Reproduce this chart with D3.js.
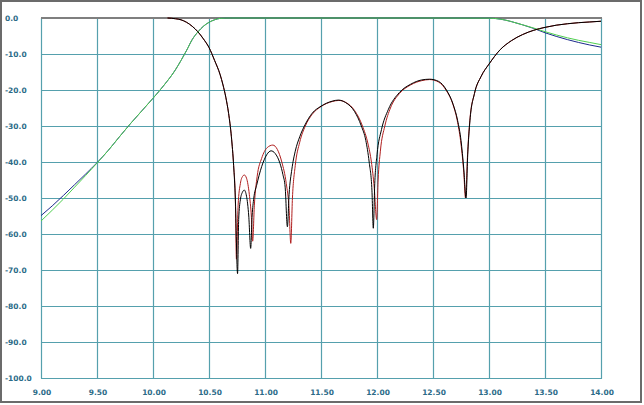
<!DOCTYPE html>
<html><head><meta charset="utf-8">
<script src="https://cdn.jsdelivr.net/npm/d3@7"></script>
<style>html,body{margin:0;padding:0;background:#fff;}svg{display:block;}</style>
</head><body>
<script>
const xTicks = [9.0, 9.5, 10.0, 10.5, 11.0, 11.5, 12.0, 12.5, 13.0, 13.5, 14.0];
const yTicks = [0, -10, -20, -30, -40, -50, -60, -70, -80, -90, -100];

// S21 (green)
const s21GreenF = [9.0,9.1,9.2,9.3,9.4,9.5,9.6,9.7,9.8,9.9,10.0,10.1,10.2,10.25,10.3,10.35,10.4,10.45,10.5,10.55,10.6,10.65,10.7,11.5,12.5,13.0,13.1,13.2,13.3,13.4,13.5,13.6,13.7,13.8,13.9,14.0];
const s21GreenV = [-56.4,-53.4,-50.3,-47.0,-43.7,-40.3,-36.8,-33.0,-29.3,-25.8,-22.3,-18.6,-14.4,-11.8,-9.0,-6.0,-3.9,-2.3,-1.2,-0.5,-0.1,-0.02,0,0,0,-0.05,-0.3,-1.0,-1.9,-2.8,-3.8,-4.7,-5.5,-6.2,-6.8,-7.4];
// S21 (blue)
const s21BlueF = [9.0,9.1,9.2,9.3,9.4,9.5,9.6,9.7,9.8,9.9,10.0,10.1,10.2,10.25,10.3,10.35,10.4,10.45,10.5,10.55,10.6,10.65,10.7,11.5,12.5,13.0,13.1,13.2,13.3,13.4,13.5,13.6,13.7,13.8,13.9,14.0];
const s21BlueV = [-54.9,-52.2,-49.3,-46.3,-43.3,-40.2,-36.8,-33.0,-29.3,-25.8,-22.3,-18.6,-14.4,-11.8,-9.0,-6.0,-3.9,-2.3,-1.2,-0.5,-0.1,-0.02,0,0,0,-0.05,-0.3,-1.0,-1.9,-2.9,-4.1,-5.1,-6.0,-6.8,-7.5,-8.1];

// S11 (black)
const s11BlackF = [10.13,10.2,10.25,10.3,10.35,10.4,10.45,10.5,10.55,10.6,10.625,10.65,10.675,10.7,10.72,10.735,10.755,10.765,10.78,10.8,10.815,10.835,10.855,10.872,10.885,10.9,10.925,10.97,11.015,11.054,11.09,11.134,11.16,11.18,11.2,11.215,11.24,11.27,11.31,11.36,11.42,11.5,11.6,11.655,11.72,11.8,11.86,11.9,11.93,11.955,11.967,11.98,12.0,12.04,12.1,12.2,12.3,12.4,12.47,12.55,12.62,12.68,12.72,12.75,12.775,12.795,12.81,12.83,12.87,12.93,13.0,13.1,13.2,13.3,13.4,13.5,13.6,13.7,13.8,13.9,14.0];
const s11BlackV = [0,-0.2,-0.5,-1.2,-2.3,-3.8,-5.8,-8.2,-11.8,-15.8,-18.6,-22,-26.5,-33,-41,-50,-71,-56,-50.5,-48.3,-47.8,-49.5,-55,-64,-55,-50,-46.5,-41.3,-38,-36.9,-37.6,-40.4,-43.5,-47,-58,-49,-42,-37,-33,-29.5,-26.5,-24.5,-23.1,-22.8,-23.5,-26,-30,-34,-40,-48,-58.4,-46,-38,-31,-25.5,-20.7,-18.4,-17.2,-17,-17.6,-20,-24,-28.5,-34,-42,-50,-38,-28.5,-21,-16.2,-12.8,-8.8,-6.3,-4.6,-3.4,-2.6,-2.0,-1.6,-1.3,-1.1,-0.9];
// S11 (red)
const s11RedF = [10.13,10.2,10.25,10.3,10.35,10.4,10.45,10.5,10.55,10.6,10.625,10.65,10.675,10.7,10.72,10.735,10.745,10.76,10.78,10.8,10.815,10.835,10.86,10.878,10.89,10.905,10.93,10.97,11.02,11.07,11.11,11.15,11.19,11.215,11.23,11.245,11.27,11.31,11.36,11.42,11.5,11.6,11.66,11.73,11.8,11.87,11.92,11.95,11.975,11.997,12.01,12.03,12.07,12.12,12.2,12.3,12.4,12.47,12.55,12.62,12.68,12.72,12.75,12.775,12.79,12.81,12.83,12.87,12.93,13.0,13.1,13.2,13.3,13.4,13.5,13.6,13.7,13.8,13.9,14.0];
const s11RedV = [0,-0.2,-0.5,-1.2,-2.3,-3.8,-5.8,-8.2,-11.8,-15.8,-18.6,-22,-26.5,-33,-41,-50,-67,-52,-46,-44,-43.6,-44.5,-49,-55,-62,-52,-44,-39,-36,-35.3,-36.5,-40,-46,-53,-62.6,-50,-41,-34.5,-30,-26.8,-24.6,-23.2,-22.9,-23.6,-25.7,-30,-35,-40,-47,-56,-45,-37,-30,-25,-21,-18.6,-17.4,-17.1,-17.8,-20.2,-24.2,-29,-35,-43,-50,-37,-28,-21,-16.2,-12.8,-8.8,-6.3,-4.6,-3.4,-2.6,-2.0,-1.6,-1.3,-1.1,-0.9];

const W = 644, H = 405;
const svg = d3.select("body").append("svg").attr("width", W).attr("height", H);
svg.append("rect").attr("x",0).attr("y",0).attr("width",W).attr("height",H).attr("fill","#fff");
svg.append("rect").attr("x",1).attr("y",1).attr("width",640).attr("height",401)
  .attr("fill","none").attr("stroke","#6b6b6b").attr("stroke-width",2);

const x = d3.scaleLinear().domain([9,14]).range([41,601]);
const y = d3.scaleLinear().domain([-100,0]).range([378,18]);
const gridColor = "#55a0ad";
const labelColor = "#2b6b88";

const g = svg.append("g");
g.selectAll("line.v").data(xTicks).enter().append("line")
  .attr("x1",d=>Math.round(x(d))+0.5).attr("x2",d=>Math.round(x(d))+0.5)
  .attr("y1",y(0)).attr("y2",y(-100)+0.5)
  .attr("stroke",gridColor).attr("stroke-width",1.2);
g.selectAll("line.h").data(yTicks.filter(d=>d<0)).enter().append("line")
  .attr("x1",x(9)).attr("x2",x(14)+1)
  .attr("y1",d=>Math.round(y(d))+0.5).attr("y2",d=>Math.round(y(d))+0.5)
  .attr("stroke",gridColor).attr("stroke-width",1.2);
g.append("line").attr("x1",x(9)).attr("x2",x(14)+1).attr("y1",y(0)).attr("y2",y(0))
  .attr("stroke","#7f7f7f").attr("stroke-width",2);

const font = "'DejaVu Sans', Verdana, sans-serif";
svg.selectAll("text.y").data(yTicks).enter().append("text")
  .attr("x",5).attr("y",d=>y(d)).attr("dy","0.35em")
  .attr("font-family",font).attr("font-weight","bold").attr("font-size","7.5px")
  .attr("fill",labelColor).text(d=>d.toFixed(1));
svg.selectAll("text.x").data(xTicks).enter().append("text")
  .attr("x",d=>x(d)+1).attr("y",392).attr("dy","0.35em").attr("text-anchor","middle")
  .attr("font-family",font).attr("font-weight","bold").attr("font-size","7.5px")
  .attr("fill",labelColor).text(d=>d.toFixed(2));

const line = d3.line().x(d=>x(d[0])).y(d=>y(d[1])).curve(d3.curveMonotoneX);
const zip = (f,v)=>f.map((fi,i)=>[fi,v[i]]);
const series = [
  {f:s21BlueF, v:s21BlueV, c:"#1c2a8c"},
  {f:s21GreenF, v:s21GreenV, c:"#4fcf4f"},
  {f:s11RedF, v:s11RedV, c:"#b01e1e"},
  {f:s11BlackF, v:s11BlackV, c:"#000000"}
];
svg.selectAll("path.s").data(series).enter().append("path")
  .attr("d",d=>line(zip(d.f,d.v))).attr("fill","none")
  .attr("stroke",d=>d.c).attr("stroke-width",1);
</script>
</body></html>
